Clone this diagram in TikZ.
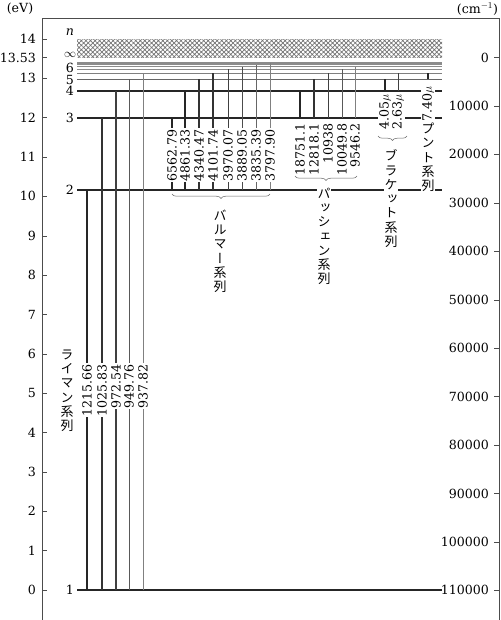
\documentclass[tikz,border=0pt]{standalone}
\usepackage{fontspec}
\setmainfont{DejaVu Serif}
\newfontfamily\jp[RawFeature={+vert}]{Noto Sans CJK JP}
\usetikzlibrary{decorations.pathreplacing,patterns.meta}
\tikzset{
  axisline/.style={draw=black!70, line width=0.8pt},
  tick/.style={draw=black!70, line width=0.6pt},
  num/.style={font=\fontsize{12.6}{14}\selectfont, text=black, inner sep=0.8pt},
  rlab/.style={num, rotate=90, anchor=east, fill=white},
  lvlab/.style={num},
  vjp/.style={font=\jp\fontsize{13}{14.3}\selectfont, text=black, align=center, inner sep=0.6pt, fill=white, anchor=north},
  bracestyle/.style={decorate, decoration={brace, mirror, amplitude=4.5pt}, draw=black!60, line width=0.5pt},
}
\begin{document}
\begin{tikzpicture}[x=1pt,y=-1pt]
\useasboundingbox (0,0) rectangle (500,620);
% frame
\draw[axisline] (42,620) -- (42,18) -- (499.6,18) -- (499.6,620);
% units
\node[num] (ev) at (20,9) {(eV)};
\node[num, anchor=east] (cm) at (499,9) {(cm$^{-1}$)};
% left axis
\foreach \v/\y [count=\i] in {14/39, 13.53/57.5, 13/78.3, 12/117.7, 11/157, 10/196.4, 9/235.8, 8/275.1, 7/314.5, 6/353.8, 5/393.2, 4/432.6, 3/471.9, 2/511.3, 1/550.6, 0/590}{
  \coordinate (lt\i a) at (42,\y);
  \coordinate (lt\i b) at (47,\y);
  \draw[tick] (lt\i a) -- (lt\i b);
  \node[num, anchor=east] (lv\i) at (37,\y) {\v};
}
% right axis
\foreach \v/\y [count=\i] in {0/57.5, 10000/106, 20000/154.4, 30000/202.9, 40000/251.3, 50000/299.8, 60000/348.2, 70000/396.7, 80000/445.1, 90000/493.6, 100000/542, 110000/590}{
  \coordinate (rt\i a) at (494,\y);
  \coordinate (rt\i b) at (499.6,\y);
  \draw[tick] (rt\i a) -- (rt\i b);
  \node[num, anchor=east] (rv\i) at (490,\y) {\v};
}
% ionisation continuum
\fill[pattern={Hatch[angle=45, distance=3.2pt, line width=0.7pt]}, pattern color=black!55] (77,40) rectangle (442,57.5);
% levels
\foreach \n/\y/\w/\c in {12/61.8/0.5/45, 11/62.5/0.5/45, 10/63.5/0.6/45, 9/64.8/0.6/45, 8/66.6/0.6/45, 7/69.2/0.6/45, 6/73/0.7/50, 5/79.5/0.9/60, 4/91/1.2/85, 3/118/1.4/85, 2/190/1.6/85, 1/590/1.6/85}{
  \coordinate (n\n w) at (77,\y);
  \coordinate (n\n e) at (442,\y);
  \draw[line width=\w pt, draw=black!\c] (n\n w) -- (n\n e);
}
% level labels
\node[num, font=\fontsize{12.6}{14}\selectfont\itshape] (nlab) at (70,32) {n};
\node[num] (ninf) at (70,55) {$\infty$};
\node[lvlab] (l6) at (70,68) {6};
\node[lvlab] (l5) at (70,79.5) {5};
\node[lvlab] (l4) at (70,91) {4};
\node[lvlab] (l3) at (70,118) {3};
\node[lvlab] (l2) at (70,190) {2};
\node[lvlab] (l1) at (70,590) {1};
% Lyman
\foreach \x/\yt/\w/\c/\t [count=\i] in {87/190/1.6/85/1215.66, 102/118/1.3/80/1025.83, 116/91/1.1/75/972.54, 129/79.5/0.9/65/949.76, 143/73/0.6/50/937.82}{
  \coordinate (ly\i a) at (\x,590);
  \coordinate (ly\i b) at (\x,\yt);
  \draw[line width=\w pt, draw=black!\c] (ly\i a) -- (ly\i b);
  \node[rlab] (lyt\i) at (\x,363) {\t};
}
% Balmer
\foreach \x/\yt/\w/\c/\t [count=\i] in {172/118/1.6/85/6562.79, 185/91/1.4/85/4861.33, 199/79.5/1.2/80/4340.47, 213/73/1.1/80/4101.74, 228/69.2/1.0/75/3970.07, 242/66.6/0.9/70/3889.05, 256/64.8/0.8/60/3835.39, 270/63.5/0.6/50/3797.90}{
  \coordinate (ba\i a) at (\x,190);
  \coordinate (ba\i b) at (\x,\yt);
  \draw[line width=\w pt, draw=black!\c] (ba\i a) -- (ba\i b);
  \node[rlab] (bat\i) at (\x,128) {\t};
}
% Paschen
\foreach \x/\yt/\w/\c/\t [count=\i] in {300/91/1.4/85/18751.1, 314/79.5/1.2/80/12818.1, 328/73/1.0/75/10938, 342/69.2/0.8/65/10049.8, 355/66.6/0.6/50/9546.2}{
  \coordinate (pa\i a) at (\x,118);
  \coordinate (pa\i b) at (\x,\yt);
  \draw[line width=\w pt, draw=black!\c] (pa\i a) -- (pa\i b);
  \node[rlab] (pat\i) at (\x,122) {\t};
}
% Brackett
\foreach \x/\yt/\w/\c/\t [count=\i] in {385/79.5/1.3/85/4.05, 398/73/1.0/75/2.63}{
  \coordinate (br\i a) at (\x,91);
  \coordinate (br\i b) at (\x,\yt);
  \draw[line width=\w pt, draw=black!\c] (br\i a) -- (br\i b);
  \node[rlab] (brt\i) at (\x,93) {\t$\mu$};
}
% Pfund
\coordinate (pf1a) at (428,79.5);
\coordinate (pf1b) at (428,73);
\draw[line width=1.2pt, draw=black!85] (pf1a) -- (pf1b);
\node[rlab] (pft1) at (428,85) {7.40$\mu$};
% braces
\coordinate (bb1) at (172,194);
\coordinate (bb2) at (270,194);
\draw[bracestyle] (bb1) -- (bb2);
\coordinate (pb1) at (295,176);
\coordinate (pb2) at (357,176);
\draw[bracestyle] (pb1) -- (pb2);
\coordinate (kb1) at (378,136);
\coordinate (kb2) at (407,136);
\draw[bracestyle] (kb1) -- (kb2);
% series names
\node[vjp] (lyman) at (67,349) {ラ\\イ\\マ\\ン\\系\\列};
\node[vjp] (balmer) at (220,209) {バ\\ル\\マ\\ー\\系\\列};
\node[vjp] (paschen) at (324,187) {パ\\ッ\\シ\\ェ\\ン\\系\\列};
\node[vjp] (brackett) at (391,149) {ブ\\ラ\\ケ\\ッ\\ト\\系\\列};
\node[vjp] (pfund) at (428,122) {プ\\ン\\ト\\系\\列};
\end{tikzpicture}
\end{document}
